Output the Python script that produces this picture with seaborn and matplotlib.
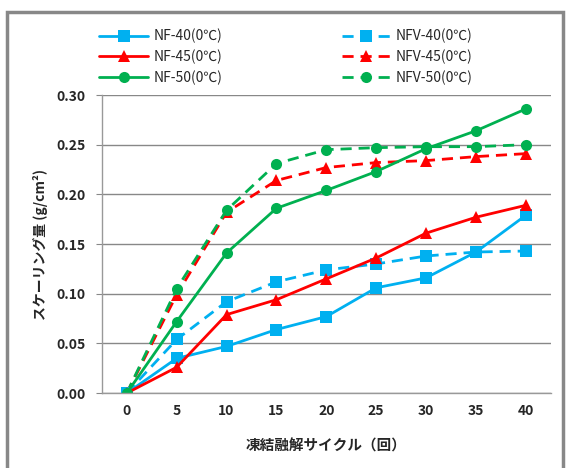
import numpy as np
import pandas as pd
import matplotlib
matplotlib.use('Agg')
import matplotlib.pyplot as plt
from matplotlib.patches import Rectangle
import seaborn as sns

# data
cycles = [0, 5, 10, 15, 20, 25, 30, 35, 40]
nf40 = [0.000, 0.035, 0.047, 0.064, 0.077, 0.106, 0.116, 0.142, 0.179]
nf45 = [0.000, 0.026, 0.079, 0.094, 0.115, 0.136, 0.161, 0.177, 0.189]
nf50 = [0.000, 0.072, 0.141, 0.186, 0.204, 0.223, 0.246, 0.264, 0.286]
nfv40 = [0.000, 0.054, 0.092, 0.112, 0.124, 0.130, 0.138, 0.142, 0.143]
nfv45 = [0.000, 0.099, 0.182, 0.214, 0.227, 0.232, 0.234, 0.238, 0.241]
nfv50 = [0.000, 0.105, 0.184, 0.231, 0.245, 0.247, 0.248, 0.248, 0.250]
labels = ['NF-40(0℃)', 'NF-45(0℃)', 'NF-50(0℃)',
          'NFV-40(0℃)', 'NFV-45(0℃)', 'NFV-50(0℃)']

sns.set_style('white')
plt.rcParams['font.family'] = ['Noto Sans CJK JP', 'DejaVu Sans']

fig = plt.figure(figsize=(5.72, 4.68), dpi=100)
ax = fig.add_axes([0.178, 0.160, 0.785, 0.637])

blue, red, green = '#00B0F0', '#FF0000', '#00B050'
series = [(nf40, blue, 's', False), (nf45, red, '^', False), (nf50, green, 'o', False),
          (nfv40, blue, 's', True), (nfv45, red, '^', True), (nfv50, green, 'o', True)]

x = np.arange(len(cycles))
# dashed series first so the solid lines sit on top like the reference
order = [3, 4, 5, 0, 1, 2]
handles = {}
for i in order:
    vals, col, mk, dashed = series[i]
    sns.lineplot(x=x, y=vals, ax=ax, color=col, marker=mk, markersize=8,
                 markeredgewidth=0, linewidth=2.0, label=labels[i])
    line = ax.get_lines()[-1]
    if dashed:
        line.set_dashes((4, 2.5))
    handles[i] = line
ax.get_legend().remove()

ax.set_xlim(-0.5, len(cycles) - 0.5)
ax.set_ylim(0, 0.30)
ax.set_yticks(np.arange(0, 0.301, 0.05))
ax.set_yticklabels([f'{v:.2f}' for v in np.arange(0, 0.301, 0.05)], fontsize=10, fontweight='bold')
ax.set_xticks(x)
ax.set_xticklabels([str(c) for c in cycles], fontsize=10, fontweight='bold')
ax.set_xticks(np.arange(-0.5, len(cycles)), minor=True)
ax.tick_params(axis='x', which='major', length=0, pad=8)
ax.tick_params(axis='x', which='minor', length=4, color='#888888', direction='out')
ax.tick_params(axis='y', length=4, color='#888888', direction='out', left=True, pad=8)
ax.grid(axis='y', color='#888888', linewidth=1.0)
ax.set_axisbelow(True)
for s in ['top', 'right']:
    ax.spines[s].set_visible(False)
for s in ['left', 'bottom']:
    ax.spines[s].set_color('#999999')
    ax.spines[s].set_linewidth(1.0)

ax.set_xlabel('凍結融解サイクル（回）', fontsize=10.5, fontweight='bold', labelpad=14)
ax.set_ylabel('スケーリング量 (g/cm²)', fontsize=10, fontweight='bold', labelpad=6)

leg_handles = [handles[i] for i in range(6)]
fig.legend(leg_handles, labels, ncol=2, loc='upper center', bbox_to_anchor=(0.50, 0.965),
           frameon=False, fontsize=10, handlelength=3.5, columnspacing=8.6,
           labelspacing=0.45, handletextpad=0.4)

fig.patches.append(Rectangle((0.013, -0.01), 0.972, 0.985, transform=fig.transFigure,
                             fill=False, edgecolor='#888888', linewidth=2.5))

fig.savefig('out.png', dpi=100)
